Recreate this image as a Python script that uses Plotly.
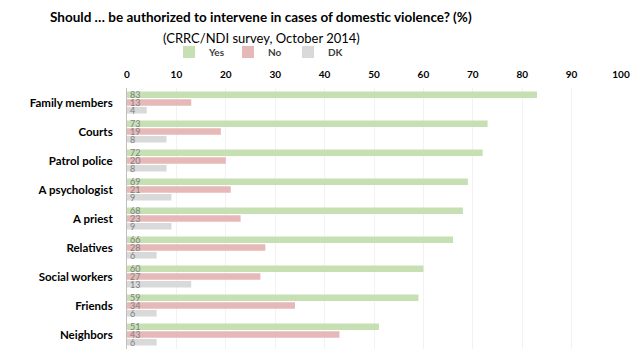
import plotly.graph_objects as go

categories = ["Family members", "Courts", "Patrol police", "A psychologist", "A priest",
              "Relatives", "Social workers", "Friends", "Neighbors"]
yes_vals = [83, 73, 72, 69, 68, 66, 60, 59, 51]
no_vals = [13, 19, 20, 21, 23, 28, 27, 34, 43]
dk_vals = [4, 8, 8, 9, 9, 6, 13, 6, 6]
x_ticks = [0, 10, 20, 30, 40, 50, 60, 70, 80, 90, 100]

FONT = "Lato"
series = [("Yes", yes_vals, "#c6e0b4", "legend"),
          ("No", no_vals, "#e6b8b7", "legend2"),
          ("DK", dk_vals, "#d9d9d9", "legend3")]

L, R, T, B = 127, 19, 88, 11
PW, PH = 640 - L - R, 360 - T - B

fig = go.Figure()
for name, vals, color, lg in series:
    fig.add_trace(go.Bar(
        y=categories, x=vals, name=name, orientation="h", legend=lg,
        marker=dict(color=color, line=dict(width=0)),
        text=[str(v) for v in vals], textposition="inside", insidetextanchor="start",
        constraintext="none", textangle=0,
        textfont=dict(family=FONT, size=9, color="#7f7f7f"),
    ))

legend_common = dict(orientation="h", xanchor="left", yanchor="middle",
                     y=1 + (T - 52) / PH, itemwidth=30, bgcolor="rgba(0,0,0,0)",
                     font=dict(family=FONT, size=10, color="#404040", weight="bold"))
legend_px = [169, 228, 288]

fig.update_layout(
    width=640, height=360,
    margin=dict(l=L, r=R, t=T, b=B, autoexpand=False),
    paper_bgcolor="white", plot_bgcolor="white",
    barmode="group", bargap=0.2, bargroupgap=0.14,
    showlegend=True,
    legend=dict(x=(legend_px[0] - L) / PW, **legend_common),
    legend2=dict(x=(legend_px[1] - L) / PW, **legend_common),
    legend3=dict(x=(legend_px[2] - L) / PW, **legend_common),
    xaxis=dict(side="top", range=[0, 100], tickvals=x_ticks, showgrid=True,
               gridcolor="#f2f2f2", gridwidth=1, zeroline=False, showline=False,
               tickfont=dict(family=FONT, size=10, color="#000000", weight="bold"),
               ticks="", automargin=False, ticklabelstandoff=7),
    yaxis=dict(autorange="reversed", showline=True, linecolor="#bfbfbf", linewidth=1,
               ticks="", tickfont=dict(family=FONT, size=11.5, color="#000000", weight="bold"),
               ticklabelstandoff=11, automargin=False),
    annotations=[
        dict(text="<b>Should … be authorized to intervene in cases of domestic violence? (%)</b>",
             xref="paper", yref="paper", x=(261 - L) / PW, y=1 + (T - 17) / PH,
             xanchor="center", yanchor="middle", showarrow=False,
             font=dict(family=FONT, size=13.5, color="#000000")),
        dict(text="(CRRC/NDI survey, October 2014)",
             xref="paper", yref="paper", x=(261 - L) / PW, y=1 + (T - 38) / PH,
             xanchor="center", yanchor="middle", showarrow=False,
             font=dict(family=FONT, size=13, color="#000000")),
    ],
)

fig.write_html("out.html", config={"displayModeBar": False},
               post_script="document.body.style.margin='0';")
